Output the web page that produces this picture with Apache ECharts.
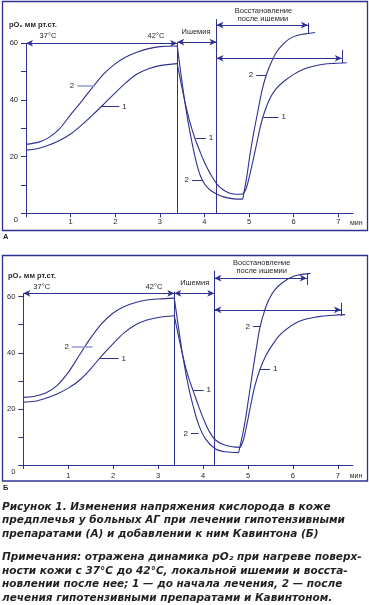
<!DOCTYPE html>
<html><head><meta charset="utf-8">
<script src="https://cdn.jsdelivr.net/npm/echarts/dist/echarts.min.js"></script>
<style>html,body{margin:0;padding:0;background:#fff}#c{width:369px;height:605px}</style>
</head><body><div id="c"></div>
<script>
// ---------- Panel A data ----------
const aCurve1Heat = [[0,22.3],[0.25,22.8],[0.5,24.0],[0.75,25.7],[1.0,28.0],[1.25,31.2],[1.5,34.8],[1.75,38.6],[2.0,42.5],[2.25,46.2],[2.5,49.2],[2.75,51.0],[3.0,52.1],[3.39,52.8]];
const aCurve1Drop = [[3.39,52.8],[3.48,45.5],[3.57,38.8],[3.68,31.8],[3.79,26.3],[3.9,21.8],[4.0,18.0],[4.13,14.0],[4.28,10.3],[4.42,8.3],[4.57,7.1],[4.72,6.7],[4.86,6.8]];
const aCurve1Rec  = [[4.86,6.8],[4.93,8.5],[5.0,12.5],[5.1,19.4],[5.19,26.0],[5.28,32.3],[5.37,36.8],[5.47,40.6],[5.6,43.8],[5.77,46.4],[6.0,49.0],[6.22,50.8],[6.45,51.9],[6.67,52.6],[6.9,52.9],[7.19,53.1]];
const aCurve2Heat = [[0,24.3],[0.3,25.2],[0.5,26.6],[0.75,29.8],[1.0,34.8],[1.25,39.6],[1.5,44.6],[1.75,49.3],[2.0,52.7],[2.25,55.2],[2.5,56.9],[2.75,58.1],[3.0,58.8],[3.39,59.0]];
const aCurve2Drop = [[3.39,59.0],[3.47,49.5],[3.55,40.5],[3.63,32.5],[3.71,25.8],[3.8,19.2],[3.9,13.6],[4.0,10.4],[4.12,8.3],[4.27,6.8],[4.45,5.7],[4.65,5.1],[4.86,5.0]];
const aCurve2Rec  = [[4.86,5.0],[4.95,13.0],[5.02,20.6],[5.1,28.0],[5.21,37.0],[5.3,44.0],[5.4,49.4],[5.5,53.3],[5.62,57.0],[5.77,59.8],[5.92,61.7],[6.07,62.7],[6.22,63.2],[6.48,63.8]];
const aBounds = [3.39, 4.27];          // ischemia start / end (min)
const aBoundTops = [60, 68.5];         // top of the vertical lines
const aYAxisTop = 60;
const aArrowLevels = [60, 60.4, 66.4, 54.7]; // heating, ischemia, recovery-2, recovery-1
const aRecEnds = [6.32, 7.08];
const aRecTicks = [[63.6, 67.1], [53.0, 57.6]];
// leader: [curve t, label-side t, value, text, light]
const aLeaders = [[1.55,1.15,44.9,'2',1],[1.70,2.09,37.6,'1',0],[3.81,4.03,26.5,'1',0],[3.94,3.72,11.8,'2',0],[5.38,5.16,48.8,'2',0],[5.32,5.66,33.9,'1',0]];

// ---------- Panel B data ----------
const bCurve1Heat = [[0,22.4],[0.25,22.7],[0.5,23.8],[0.75,25.3],[1.0,27.4],[1.25,30.2],[1.5,34.3],[1.75,39.0],[2.0,43.3],[2.25,47.2],[2.5,50.0],[2.75,51.7],[3.0,52.6],[3.36,53.2]];
const bCurve1Drop = [[3.36,53.2],[3.46,45.5],[3.56,38.2],[3.67,31.5],[3.79,26.0],[3.9,21.0],[4.0,16.8],[4.12,12.5],[4.27,9.0],[4.45,7.3],[4.65,6.5],[4.83,6.3]];
const bCurve1Rec  = [[4.83,6.3],[4.9,9.0],[4.97,14.0],[5.05,20.5],[5.15,28.0],[5.27,34.2],[5.4,39.0],[5.55,43.0],[5.75,47.0],[6.12,51.1],[6.57,52.9],[6.9,53.4],[7.16,53.6]];
const bCurve2Heat = [[0,24.1],[0.25,24.5],[0.5,25.7],[0.75,28.3],[1.0,33.0],[1.25,39.2],[1.5,45.3],[1.75,50.5],[2.0,54.2],[2.25,56.5],[2.5,57.9],[2.75,58.8],[3.0,59.2],[3.36,59.5]];
const bCurve2Drop = [[3.36,59.5],[3.44,50.5],[3.52,41.8],[3.6,34.2],[3.68,27.6],[3.78,21.0],[3.9,14.5],[4.05,9.4],[4.27,5.8],[4.5,4.7],[4.79,4.4]];
const bCurve2Rec  = [[4.79,4.4],[4.87,10.0],[4.94,16.0],[5.03,25.5],[5.12,35.0],[5.2,43.0],[5.27,49.3],[5.36,54.5],[5.46,58.8],[5.6,62.5],[5.75,64.8],[5.92,66.6],[6.12,67.7],[6.39,68.3]];
const bBounds = [3.36, 4.25];
const bBoundTops = [61.8, 69.3];
const bYAxisTop = 61.2;
const bArrowLevels = [61.2, 61.2, 66.6, 55.3];
const bRecEnds = [6.31, 7.07];
const bRecTicks = [[64.2, 68.4], [53.1, 57.8]];
const bLeaders = [[1.54,1.08,42.1,'2',1],[1.71,2.12,38.0,'1',0],[3.79,4.01,26.7,'1',0],[3.90,3.73,11.3,'2',0],[5.27,5.11,49.3,'2',0],[5.27,5.49,34.2,'1',0]];

// ---------- axes ----------
const xTicks = [0,1,2,3,4,5,6,7];
const xLabels = [1,2,3,4,5,6,7];
const yTicks = [0,10,20,30,40,50,60];
const yLabels = [0,20,40,60];
const xMax = 7.33, yMax = 75;

const NAVY = '#2e3192', LIGHT = '#9d9fd0', TXT = '#231f20';
const FONT = '"Liberation Sans", Arial, sans-serif';

function seg(a, b, s0, s1) {
  const A = {coord: a, symbol: s0 || 'none'}, B = {coord: b, symbol: s1 || 'none'};
  if (s0 === 'arrow') A.symbolSize = [5, 7];
  if (s1 === 'arrow') B.symbolSize = [5, 7];
  return [A, B];
}
function marks(bounds, tops, yTop, lv, ends, ticks, leaders) {
  const d = [];
  d.push(seg([0,0],[0,yTop]));
  d.push(seg([bounds[0],0],[bounds[0],tops[0]]));
  d.push(seg([bounds[1],0],[bounds[1],tops[1]]));
  d.push(seg([0,lv[0]],[bounds[0],lv[0]],'arrow','arrow'));
  d.push(seg([bounds[0],lv[1]],[bounds[1],lv[1]],'arrow','arrow'));
  d.push(seg([bounds[1],lv[2]],[ends[0],lv[2]],'arrow','arrow'));
  d.push(seg([bounds[1],lv[3]],[ends[1],lv[3]],'arrow','arrow'));
  d.push(seg([ends[0],ticks[0][0]],[ends[0],ticks[0][1]]));
  d.push(seg([ends[1],ticks[1][0]],[ends[1],ticks[1][1]]));
  leaders.forEach(l => {
    const s = seg([l[0], l[2]], [l[1], l[2]]);
    s[0].name = l[3];
    s[0].lineStyle = {color: l[4] ? LIGHT : NAVY, width: l[4] ? 1.6 : 1};
    s[0].label = {show: true, position: 'end', formatter: '{b}', distance: 3, fontSize: 8, fontFamily: FONT, color: TXT};
    d.push(s);
  });
  return {silent: true, animation: false, lineStyle: {color: NAVY, width: 1, type: 'solid'},
          label: {show: false}, emphasis: {disabled: true}, data: d};
}
function curve(i, data, mk) {
  const s = {type: 'line', xAxisIndex: i, yAxisIndex: i, data: data, smooth: 0.35,
    symbol: 'none', clip: false, silent: true, animation: false, lineStyle: {color: NAVY, width: 1.1}};
  if (mk) s.markLine = mk;
  return s;
}
function xAx(i, margin) {
  return {type: 'value', gridIndex: i, min: 0, max: xMax, interval: 1,
    name: 'мин', nameLocation: 'end', nameGap: -3,
    nameTextStyle: {fontSize: 7, fontFamily: FONT, color: TXT, verticalAlign: 'top', padding: [margin + 1, 0, 0, 0], align: 'left'},
    axisLine: {show: true, lineStyle: {color: NAVY, width: 1}},
    axisTick: {show: true, length: 4, customValues: xTicks, lineStyle: {color: NAVY}},
    axisLabel: {customValues: xLabels, margin: margin, fontSize: 7.5, fontFamily: FONT, color: TXT},
    splitLine: {show: false}};
}
function yAx(i) {
  return {type: 'value', gridIndex: i, min: 0, max: yMax, interval: 10,
    axisLine: {show: false},
    axisTick: {show: true, length: 5, customValues: yTicks, lineStyle: {color: NAVY}},
    axisLabel: {customValues: yLabels, margin: 8, fontSize: 7.5, fontFamily: FONT, color: TXT,
      formatter: v => v === 0 ? '{z|0}' : String(v), rich: {z: {padding: [13, 0, 0, 0], fontSize: 7.5, fontFamily: FONT, color: TXT}}},
    splitLine: {show: false}};
}

const caption = [
  ['Рисунок 1. Изменения напряжения кислорода в коже', 507],
  ['предплечья у больных АГ при лечении гипотензивными', 520.5],
  ['препаратами (А) и добавлении к ним Кавинтона (Б)', 534],
  ['Примечания: отражена динамика pO₂ при нагреве поверх-', 557],
  ['ности кожи с 37°C до 42°C, локальной ишемии и восста-', 571],
  ['новлении после нее; 1 — до начала лечения, 2 — после', 584.5],
  ['лечения гипотензивными препаратами и Кавинтоном.', 598]
];
const smallTexts = [
  ['pO₂ мм рт.ст.', 9, 25, 'left', 'bold'],
  ['37°C', 48, 35.7, 'center', 'normal'],
  ['42°C', 156, 35.7, 'center', 'normal'],
  ['Ишемия', 196, 31.7, 'center', 'normal'],
  ['Восстановление', 263.5, 11, 'center', 'normal'],
  ['после ишемии', 263, 19.3, 'center', 'normal'],
  ['А', 3, 237, 'left', 'bold'],
  ['pO₂ мм рт.ст.', 8, 276, 'left', 'bold'],
  ['37°C', 41.7, 287.3, 'center', 'normal'],
  ['42°C', 154, 287.3, 'center', 'normal'],
  ['Ишемия', 194.7, 282.7, 'center', 'normal'],
  ['Восстановление', 261.7, 263.3, 'center', 'normal'],
  ['после ишемии', 261.7, 270.7, 'center', 'normal'],
  ['Б', 3, 488, 'left', 'bold']
];

const graphics = [
  {type: 'rect', silent: true, shape: {x: 2.5, y: 1.5, width: 365, height: 229}, style: {fill: 'none', stroke: NAVY, lineWidth: 1.3}},
  {type: 'rect', silent: true, shape: {x: 2.5, y: 255.5, width: 365, height: 225.5}, style: {fill: 'none', stroke: NAVY, lineWidth: 1.3}}
];
smallTexts.forEach(t => graphics.push({type: 'text', silent: true, x: t[1], y: t[2],
  style: {text: t[0], fontSize: 7.5, fontWeight: t[4], fontFamily: FONT, fill: TXT, align: t[3], verticalAlign: 'middle'}}));
caption.forEach(c => graphics.push({type: 'text', silent: true, x: 2, y: c[1],
  style: {text: c[0], fontSize: 10.5, fontWeight: 'bold', fontStyle: 'italic', fontFamily: '"DejaVu Sans", sans-serif', fill: TXT, align: 'left', verticalAlign: 'middle'}}));

const chart = echarts.init(document.getElementById('c'), null, {renderer: 'canvas'});
chart.setOption({
  animation: false,
  backgroundColor: '#fff',
  grid: [
    {left: 26, top: 0.7, width: 327, height: 212.6},
    {left: 23.3, top: 254.6, width: 329.4, height: 210.4}
  ],
  xAxis: [xAx(0, 5), xAx(1, 6.5)],
  yAxis: [yAx(0), yAx(1)],
  series: [
    curve(0, aCurve1Heat, marks(aBounds, aBoundTops, aYAxisTop, aArrowLevels, aRecEnds, aRecTicks, aLeaders)),
    curve(0, aCurve1Drop), curve(0, aCurve1Rec),
    curve(0, aCurve2Heat), curve(0, aCurve2Drop), curve(0, aCurve2Rec),
    curve(1, bCurve1Heat, marks(bBounds, bBoundTops, bYAxisTop, bArrowLevels, bRecEnds, bRecTicks, bLeaders)),
    curve(1, bCurve1Drop), curve(1, bCurve1Rec),
    curve(1, bCurve2Heat), curve(1, bCurve2Drop), curve(1, bCurve2Rec)
  ],
  graphic: graphics
});
</script></body></html>
